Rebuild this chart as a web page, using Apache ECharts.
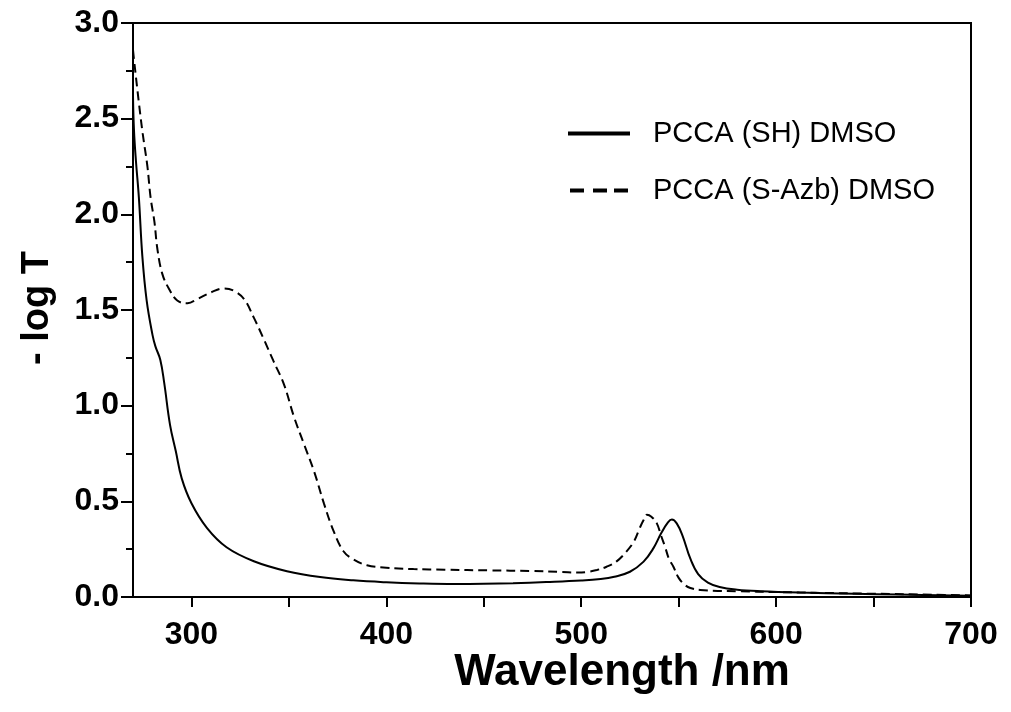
<!DOCTYPE html>
<html>
<head>
<meta charset="utf-8">
<script src="https://cdn.jsdelivr.net/npm/echarts@6/dist/echarts.min.js"></script>
<style>
html,body{margin:0;padding:0;background:#fff;}
#chart{width:1011px;height:712px;}
</style>
</head>
<body>
<div id="chart"></div>
<script>
// ---- Data ----
const seriesNames = ['PCCA (SH) DMSO', 'PCCA (S-Azb) DMSO'];

const shData = [
  [270, 2.62], [270.5, 2.44], [271.5, 2.28], [273, 2.09], [274.8, 1.78], [277, 1.55],
  [280, 1.37], [281.5, 1.31], [284, 1.24], [286, 1.12], [289, 0.90], [292, 0.76],
  [295, 0.62], [300, 0.49], [308, 0.36], [318, 0.26], [332, 0.187], [349, 0.135],
  [366, 0.104], [383, 0.087], [400, 0.077], [417, 0.071], [435, 0.068], [450, 0.069],
  [465, 0.072], [482, 0.078], [500, 0.086], [510, 0.094], [517, 0.106], [525, 0.132],
  [532, 0.185], [537, 0.254], [541, 0.333], [544.5, 0.39], [546.5, 0.405], [549, 0.385],
  [552, 0.32], [556, 0.2], [560, 0.12], [565, 0.075], [571, 0.052], [580, 0.038],
  [592, 0.03], [612, 0.023], [640, 0.017], [663, 0.013], [700, 0.006]
];

const azbData = [
  [270, 2.86], [270.5, 2.81], [273, 2.585], [275, 2.42], [277.4, 2.25], [279, 2.09],
  [281, 1.96], [282.5, 1.82], [285, 1.69], [288.5, 1.61], [292.7, 1.55], [298, 1.535],
  [303, 1.557], [310, 1.592], [316.7, 1.613], [321.8, 1.6], [327, 1.557], [332, 1.46],
  [337, 1.35], [342, 1.235], [347.5, 1.11], [352.5, 0.945], [357.7, 0.8], [363, 0.654],
  [368, 0.488], [373, 0.343], [378, 0.239], [383, 0.197], [390, 0.166], [400, 0.153],
  [414, 0.146], [430, 0.143], [453, 0.139], [474, 0.136], [490, 0.131], [498, 0.128],
  [503, 0.131], [508, 0.141], [513, 0.158], [518, 0.185], [523, 0.235], [527, 0.29],
  [530, 0.36], [532, 0.402], [533.7, 0.43], [536, 0.42], [538.8, 0.385], [541, 0.32],
  [543, 0.263], [545, 0.2], [547.3, 0.158], [550, 0.1], [553, 0.065], [556, 0.047],
  [561, 0.037], [570, 0.032], [580, 0.03], [600, 0.026], [620, 0.022], [650, 0.017],
  [680, 0.012], [700, 0.008]
];

const xTickValues = [300, 350, 400, 450, 500, 550, 600, 650, 700];
const xLabelValues = [300, 400, 500, 600, 700];
const xTitle = 'Wavelength /nm';
const yTitle = '- log T';

// ---- Chart ----
const chart = echarts.init(document.getElementById('chart'), null, {renderer: 'canvas'});
const FONT = '"Liberation Sans", Arial, sans-serif';

const option = {
  backgroundColor: '#fff',
  animation: false,
  grid: {
    left: 133, right: 40, top: 23, bottom: 115,
    show: true, borderColor: '#000', borderWidth: 2, backgroundColor: 'transparent'
  },
  legend: {
    orient: 'vertical',
    left: 563, top: 114,
    itemWidth: 62, itemHeight: 4, itemGap: 28,
    data: [
      {name: seriesNames[0], icon: 'path://M0,0h64v4h-64z'},
      {name: seriesNames[1], icon: 'path://M0,0h14v4h-14z M23,0h14v4h-14z M44,0h14v4h-14z'}
    ],
    itemStyle: {color: '#000'},
    textStyle: {fontFamily: FONT, fontSize: 29, color: '#000', lineHeight: 28, padding: [0, 0, 0, 18]}
  },
  xAxis: {
    type: 'value', min: 270, max: 700,
    axisLine: {show: true, onZero: false, lineStyle: {color: '#000', width: 2}},
    axisTick: {show: true, customValues: xTickValues, length: 10, lineStyle: {color: '#000', width: 2}},
    axisLabel: {customValues: xLabelValues, margin: 22, fontFamily: FONT, fontWeight: 'bold', fontSize: 32, color: '#000'},
    splitLine: {show: false}
  },
  yAxis: {
    type: 'value', min: 0, max: 3, interval: 0.5,
    axisLine: {show: true, lineStyle: {color: '#000', width: 2}},
    axisTick: {show: true, length: 12, lineStyle: {color: '#000', width: 2}},
    minorTick: {show: true, splitNumber: 2, length: 7, lineStyle: {color: '#000', width: 2}},
    axisLabel: {margin: 14, fontFamily: FONT, fontWeight: 'bold', fontSize: 32, color: '#000',
      formatter: v => v.toFixed(1)},
    splitLine: {show: false}, minorSplitLine: {show: false}
  },
  graphic: [
    {type: 'text', x: 622, y: 673,
      style: {text: xTitle, fontFamily: FONT, fontWeight: 'bold', fontSize: 44, fill: '#000',
        textAlign: 'center', textVerticalAlign: 'middle'}},
    {type: 'text', x: 38, y: 308, rotation: Math.PI / 2,
      style: {text: yTitle, fontFamily: FONT, fontWeight: 'bold', fontSize: 38, fill: '#000',
        textAlign: 'center', textVerticalAlign: 'middle'}}
  ],
  series: [
    {name: seriesNames[0], type: 'line', data: shData, showSymbol: false, symbol: 'none',
      smooth: 0.4,
      lineStyle: {color: '#000', width: 2, type: 'solid'}, itemStyle: {color: '#000'}},
    {name: seriesNames[1], type: 'line', data: azbData, showSymbol: false, symbol: 'none',
      smooth: 0.4,
      lineStyle: {color: '#000', width: 2, type: [9, 5]}, itemStyle: {color: '#000'}}
  ]
};
chart.setOption(option);
</script>
</body>
</html>
